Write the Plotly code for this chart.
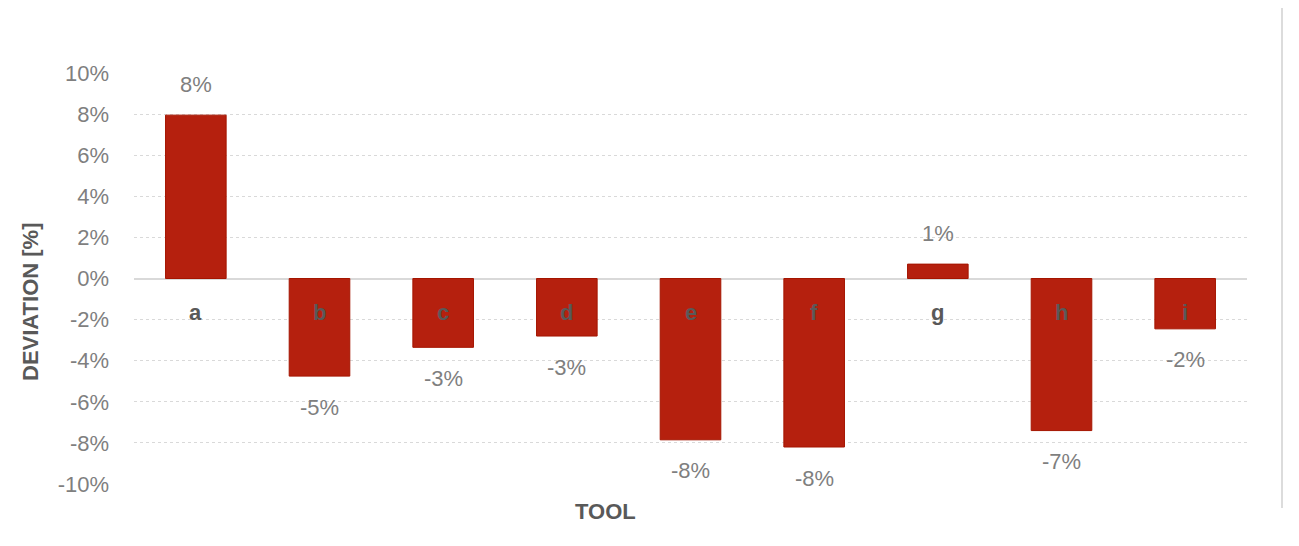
import plotly.graph_objects as go

categories = ["a", "b", "c", "d", "e", "f", "g", "h", "i"]
deviation = [7.95, -4.75, -3.35, -2.8, -7.85, -8.2, 0.7, -7.4, -2.45]
tick_values = [-10, -8, -6, -4, -2, 0, 2, 4, 6, 8, 10]
tick_labels = [f"{v}%" for v in tick_values]

FONT = "Liberation Sans"
GRAY = "#7f7f7f"
DARK = "#595959"

# page has an 8px body margin; positions below are reference-pixel based
OFF = 8
W, H = 1299 - 2 * OFF, 546 - 2 * OFF
PL, PR, PT, PB = 134, 1247, 73, 484          # plot area in page pixels
L, T = PL - OFF, PT - OFF
R, B = W - (PR - OFF), H - (PB - OFF)
pw, ph = PR - PL, PB - PT


def px_x(x):
    return (x - PL) / pw


def px_y(y):
    return (PB - y) / ph


fig = go.Figure()
fig.add_trace(go.Bar(
    x=categories, y=deviation, width=0.49,
    marker=dict(color="#b5200e", line=dict(color="#a51500", width=1)),
    hoverinfo="x+y",
))

annotations = []
for c, v in zip(categories, deviation):
    annotations.append(dict(x=c, y=v, text=f"{round(v):.0f}%", showarrow=False,
                            yshift=31 if v >= 0 else -31,
                            font=dict(family=FONT, size=22, color=GRAY)))
    annotations.append(dict(x=c, y=0, text=f"<b>{c}</b>", showarrow=False, yshift=-34,
                            font=dict(family=FONT, size=22, color=DARK)))

annotations.append(dict(xref="paper", yref="paper", x=px_x(30), y=px_y(302),
                        xanchor="center", yanchor="middle",
                        text="<b>DEVIATION [%]</b>", textangle=-90, showarrow=False,
                        font=dict(family=FONT, size=22, color=DARK)))
annotations.append(dict(xref="paper", yref="paper", x=px_x(605), y=px_y(512),
                        xanchor="center", yanchor="middle",
                        text="<b>TOOL</b>", showarrow=False,
                        font=dict(family=FONT, size=22, color=DARK)))

fig.update_layout(
    width=W, height=H,
    margin=dict(l=L, r=R, t=T, b=B),
    paper_bgcolor="white", plot_bgcolor="white",
    showlegend=False,
    annotations=annotations,
    shapes=[dict(type="line", xref="paper", yref="paper",
                 x0=px_x(1282), x1=px_x(1282), y0=px_y(508), y1=px_y(OFF),
                 line=dict(color="#d0d0d0", width=1.5))],
    xaxis=dict(range=[-0.5, 8.5], showticklabels=False, showgrid=False,
               zeroline=False, showline=False, fixedrange=True),
    yaxis=dict(range=[-10, 10], tickvals=tick_values, ticktext=tick_labels,
               showgrid=True, gridcolor="#d9d9d9", griddash="dot", gridwidth=1,
               zeroline=True, zerolinecolor="#d9d9d9", zerolinewidth=1.5,
               showline=False, ticks="", ticklabelstandoff=24,
               tickfont=dict(family=FONT, size=22, color=GRAY)),
    font=dict(family=FONT),
)

fig.write_html("out.html")
